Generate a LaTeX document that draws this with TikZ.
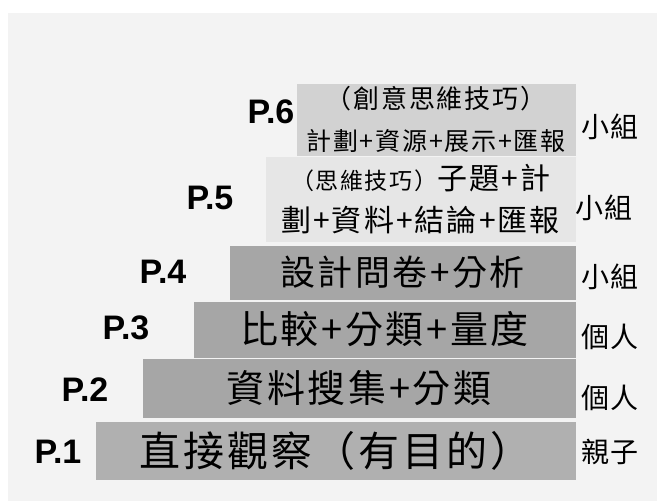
\documentclass[tikz,border=0pt]{standalone}
\usepackage{fontspec}
\setmainfont{Liberation Sans}
\newfontfamily\cjk[LetterSpace=7]{Noto Sans CJK TC}
\usetikzlibrary{positioning}
\definecolor{bgWhite}{RGB}{255, 255, 255}
\definecolor{bgPanel}{RGB}{243, 243, 243}
\definecolor{barBase}{RGB}{176, 176, 176}
\definecolor{barDark}{RGB}{166, 166, 166}
\definecolor{barMid}{RGB}{210, 210, 210}
\definecolor{barLight}{RGB}{230, 230, 230}
\definecolor{textBlack}{RGB}{0, 0, 0}
\tikzset{
    stepbar/.style={
        rectangle,
        anchor=north west,
        inner sep=0pt,
        outer sep=0pt,
        draw=bgPanel,
        line width=0.8pt,
        align=center,
        text=textBlack
    },
    steplabel/.style={
        font=\bfseries\fontsize{34}{38}\selectfont,
        text=textBlack,
        inner sep=0pt
    },
    grouplabel/.style={
        font=\cjk\fontsize{28}{30}\selectfont,
        text=textBlack,
        inner sep=0pt
    }
}

\begin{document}
\begin{tikzpicture}[x=1pt, y=-1pt]
    \useasboundingbox (0,0) rectangle (657,501);
    \fill[bgWhite] (0,0) rectangle (657,501);
    \fill[bgPanel] (8,13) rectangle (657,501);

    % Steps (bottom to top)
    \node[stepbar, fill=barBase, minimum width=481pt, minimum height=59pt, font=\cjk\fontsize{41}{44}\selectfont] (p1) at (95,421) {直接觀察（有目的）};
    \node[stepbar, fill=barDark, minimum width=434pt, minimum height=60pt, font=\cjk\fontsize{38}{42}\selectfont] (p2) at (142,358) {資料搜集+分類};
    \node[stepbar, fill=barDark, minimum width=383pt, minimum height=57pt, font=\cjk\fontsize{38}{42}\selectfont] (p3) at (193,301) {比較+分類+量度};
    \node[stepbar, fill=barDark, minimum width=347pt, minimum height=55pt, font=\cjk\fontsize{35}{38}\selectfont] (p4) at (229,245) {設計問卷+分析};
    \node[stepbar, fill=barLight, minimum width=311pt, minimum height=86pt, font=\cjk\fontsize{30}{42}\selectfont] (p5) at (265,156) {{\fontsize{23}{42}\selectfont （思維技巧）}子題+計\\劃+資料+結論+匯報};
    \node[stepbar, fill=barMid, minimum width=280pt, minimum height=73pt, font=\cjk\fontsize{25}{42}\selectfont] (p6) at (296,83) {{\fontsize{26}{42}\selectfont （創意思維技巧）}\\計劃+資源+展示+匯報};

    % Step numbers
    \node[steplabel] (n1) at (58,452) {P.1};
    \node[steplabel] (n2) at (85,390) {P.2};
    \node[steplabel] (n3) at (126,328) {P.3};
    \node[steplabel] (n4) at (163,272) {P.4};
    \node[steplabel] (n5) at (210,198) {P.5};
    \node[steplabel] (n6) at (271,112) {P.6};

    % Who works on it
    \node[grouplabel] (g1) at (610,452) {親子};
    \node[grouplabel] (g2) at (610,398) {個人};
    \node[grouplabel] (g3) at (610,337) {個人};
    \node[grouplabel] (g4) at (610,277) {小組};
    \node[grouplabel] (g5) at (604,208) {小組};
    \node[grouplabel] (g6) at (610,127) {小組};
\end{tikzpicture}
\end{document}
